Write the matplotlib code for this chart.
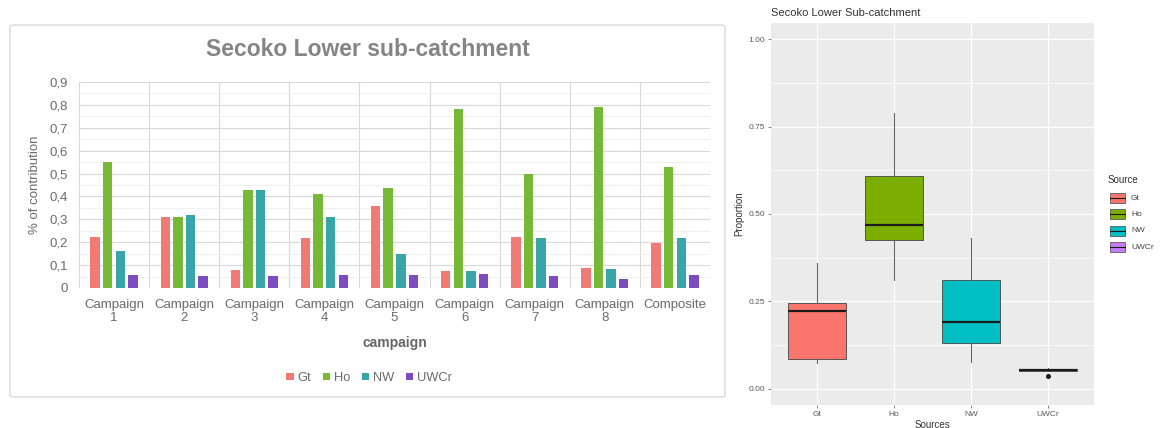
import matplotlib
matplotlib.use("Agg")
import matplotlib.pyplot as plt
from matplotlib.patches import Patch, FancyBboxPatch, Rectangle
from matplotlib.ticker import MultipleLocator, FixedLocator
import numpy as np

plt.rcParams["font.family"] = ["Liberation Sans", "DejaVu Sans"]

# ---- data -------------------------------------------------------------
campaigns = ["Campaign\n1", "Campaign\n2", "Campaign\n3", "Campaign\n4",
             "Campaign\n5", "Campaign\n6", "Campaign\n7", "Campaign\n8",
             "Composite"]
sources = ["Gt", "Ho", "NW", "UWCr"]
gt = [0.225, 0.31, 0.08, 0.22, 0.36, 0.074, 0.225, 0.086, 0.198]
ho = [0.55, 0.31, 0.43, 0.41, 0.435, 0.78, 0.50, 0.79, 0.527]
nw = [0.16, 0.32, 0.43, 0.31, 0.148, 0.076, 0.22, 0.082, 0.22]
uwcr = [0.058, 0.054, 0.052, 0.058, 0.055, 0.06, 0.052, 0.038, 0.055]
y_ticks = [0, 0.1, 0.2, 0.3, 0.4, 0.5, 0.6, 0.7, 0.8, 0.9]
y_tick_labels = ["0", "0,1", "0,2", "0,3", "0,4", "0,5", "0,6", "0,7", "0,8", "0,9"]
prop_ticks = [0.0, 0.25, 0.5, 0.75, 1.0]
prop_tick_labels = ["0.00", "0.25", "0.50", "0.75", "1.00"]

bar_colors = ["#F07A76", "#77B937", "#3AA5A9", "#7D4DBF"]
box_colors = ["#F8766D", "#7CAE00", "#00BFC4", "#C77CFF"]

W, H = 1161, 428
fig = plt.figure(figsize=(W / 100, H / 100), dpi=100)
fig.patch.set_facecolor("white")


def fx(px):
    return px / W


def fy(py):
    return 1 - py / H


# ---- left: grouped bar chart ----------------------------------------
frame = FancyBboxPatch((fx(10), fy(397)), fx(725) - fx(10), fy(25) - fy(397),
                       boxstyle="round,pad=0,rounding_size=0.004",
                       transform=fig.transFigure, facecolor="white",
                       edgecolor="#D9D9D9", lw=1.0, zorder=-5)
fig.patches.append(frame)

ax = fig.add_axes([fx(79), fy(288), fx(710) - fx(79), fy(82) - fy(288)])
ax.set_facecolor("none")
x = np.arange(len(campaigns))
step, bw = 0.18, 0.135
for i, (vals, c, name) in enumerate(zip([gt, ho, nw, uwcr], bar_colors, sources)):
    ax.bar(x + (i - 1.5) * step, vals, width=bw, color=c, label=name, zorder=3)

ax.set_xlim(-0.5, len(campaigns) - 0.5)
ax.set_ylim(0, 0.9)
ax.set_yticks(y_ticks)
ax.set_yticklabels(y_tick_labels)
ax.yaxis.set_minor_locator(MultipleLocator(0.05))
ax.set_xticks(x)
ax.set_xticklabels(campaigns, linespacing=1.15)
ax.xaxis.set_minor_locator(FixedLocator(np.arange(-0.5, len(campaigns), 1.0)))
ax.grid(which="major", axis="y", color="#D9D9D9", lw=0.8, zorder=0)
ax.grid(which="minor", axis="y", color="#EEEEEE", lw=0.6, zorder=0)
ax.grid(which="minor", axis="x", color="#D9D9D9", lw=0.8, zorder=0)
ax.grid(which="major", axis="x", visible=False)
for s in ax.spines.values():
    s.set_visible(False)
ax.tick_params(which="both", length=0)
ax.tick_params(axis="y", labelsize=9.5, labelcolor="#6B6B6B", pad=8)
ax.tick_params(axis="x", labelsize=9.5, labelcolor="#6B6B6B", pad=8)
ax.set_xlabel("campaign", fontsize=10, fontweight="bold", color="#666666", labelpad=8)

fig.text(fx(368), fy(50), "Secoko Lower sub-catchment", ha="center", va="center",
         fontsize=16.5, fontweight="bold", color="#858585")
fig.text(fx(35), fy(185), "% of contribution", ha="center", va="center",
         rotation=90, fontsize=9.5, color="#6B6B6B")

handles = [Patch(facecolor=c, edgecolor="none", label=n) for c, n in zip(bar_colors, sources)]
fig.legend(handles=handles, loc="center", bbox_to_anchor=(fx(369), fy(378)), ncol=4,
           frameon=False, fontsize=9.3, handlelength=0.55, handleheight=0.55,
           handletextpad=0.3, columnspacing=0.9, labelcolor="#6B6B6B")

# ---- right: boxplot of campaign contributions -----------------------
bx = fig.add_axes([fx(771), fy(405), fx(1094) - fx(771), fy(23) - fy(405)])
bx.set_facecolor("#EBEBEB")
samples = [gt[:8], ho[:8], nw[:8], uwcr[:8]]
bp = bx.boxplot(samples, positions=[1, 2, 3, 4], widths=0.75, patch_artist=True,
                showcaps=False, whis=1.5,
                medianprops=dict(color="#1A1A1A", lw=1.6),
                whiskerprops=dict(color="#666666", lw=0.8),
                boxprops=dict(edgecolor="#444444", lw=0.6),
                flierprops=dict(marker="o", markersize=2.6, markerfacecolor="#1A1A1A",
                                markeredgecolor="#1A1A1A"), zorder=3)
for patch, c in zip(bp["boxes"], box_colors):
    patch.set_facecolor(c)

bx.set_xlim(0.4, 4.6)
bx.set_ylim(-0.046, 1.046)
bx.set_yticks(prop_ticks)
bx.set_yticklabels(prop_tick_labels)
bx.yaxis.set_minor_locator(FixedLocator([0.125, 0.375, 0.625, 0.875]))
bx.set_xticks([1, 2, 3, 4])
bx.set_xticklabels(sources)
bx.grid(which="major", color="white", lw=1.0, zorder=0)
bx.grid(which="minor", axis="y", color="white", lw=0.5, zorder=0)
for s in bx.spines.values():
    s.set_visible(False)
bx.tick_params(which="major", length=2, width=0.5, color="#555555",
               labelsize=6, labelcolor="#5A5A5A", pad=2)
bx.tick_params(which="minor", length=0)
bx.set_xlabel("Sources", fontsize=7, color="#333333", labelpad=2)
bx.set_ylabel("Proportion", fontsize=7, color="#333333", labelpad=3)
fig.text(fx(771), fy(13), "Secoko Lower Sub-catchment", ha="left", va="center",
         fontsize=8, color="#333333")

# legend for the boxplot
fig.text(fx(1108), fy(180), "Source", ha="left", va="center", fontsize=7, color="#333333")
key_y = [198, 214, 231, 247]
for yk, c, n in zip(key_y, box_colors, sources):
    fig.patches.append(Rectangle((fx(1110), fy(yk + 5)), fx(15), fy(0) - fy(10),
                                 transform=fig.transFigure, facecolor=c,
                                 edgecolor="#444444", lw=0.5))
    fig.lines.append(plt.Line2D([fx(1110), fx(1125)], [fy(yk), fy(yk)],
                                transform=fig.transFigure, color="#1A1A1A", lw=0.8))
    fig.text(fx(1131), fy(yk), n, ha="left", va="center", fontsize=6, color="#444444")

fig.savefig("out.png", dpi=100)
